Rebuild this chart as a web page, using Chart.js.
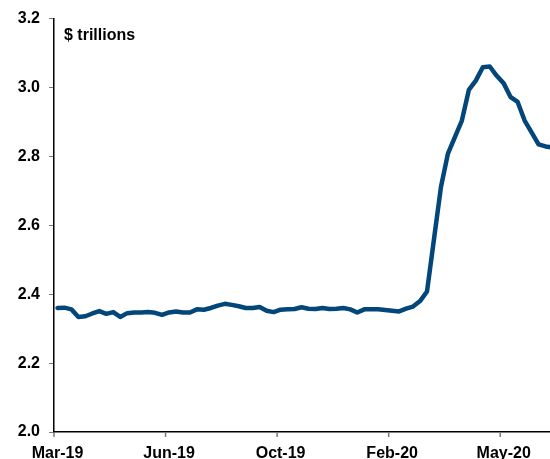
<!DOCTYPE html>
<html>
<head>
<meta charset="utf-8">
<script src="https://cdn.jsdelivr.net/npm/chart.js@4/dist/chart.umd.min.js"></script>
<style>
    html, body { margin: 0; padding: 0; background: #fff; overflow: hidden; }
    #wrap { width: 550px; height: 459px; overflow: hidden; }
</style>
</head>
<body>
<div id="wrap"><canvas id="myChart1" width="556" height="459"></canvas></div>
<script>
// weekly (Wednesday) observations
const weeks = [
    '2019-03-06', '2019-03-13', '2019-03-20', '2019-03-27', '2019-04-03', '2019-04-10', '2019-04-17', '2019-04-24',
    '2019-05-01', '2019-05-08', '2019-05-15', '2019-05-22', '2019-05-29', '2019-06-05', '2019-06-12', '2019-06-19',
    '2019-06-26', '2019-07-03', '2019-07-10', '2019-07-17', '2019-07-24', '2019-07-31', '2019-08-07', '2019-08-14',
    '2019-08-21', '2019-08-28', '2019-09-04', '2019-09-11', '2019-09-18', '2019-09-25', '2019-10-02', '2019-10-09',
    '2019-10-16', '2019-10-23', '2019-10-30', '2019-11-06', '2019-11-13', '2019-11-20', '2019-11-27', '2019-12-04',
    '2019-12-11', '2019-12-18', '2019-12-25', '2020-01-01', '2020-01-08', '2020-01-15', '2020-01-22', '2020-01-29',
    '2020-02-05', '2020-02-12', '2020-02-19', '2020-02-26', '2020-03-04', '2020-03-11', '2020-03-18', '2020-03-25',
    '2020-04-01', '2020-04-08', '2020-04-15', '2020-04-22', '2020-04-29', '2020-05-06', '2020-05-13', '2020-05-20',
    '2020-05-27', '2020-06-03', '2020-06-10', '2020-06-17', '2020-06-24', '2020-07-01', '2020-07-08', '2020-07-15'
];

// $ trillions
const values = [
    2.360, 2.361, 2.356, 2.334, 2.336, 2.344, 2.351, 2.343,
    2.348, 2.334, 2.345, 2.347, 2.347, 2.348, 2.346, 2.340,
    2.347, 2.350, 2.347, 2.347, 2.356, 2.355, 2.360, 2.367,
    2.372, 2.369, 2.365, 2.360, 2.360, 2.363, 2.352, 2.348,
    2.355, 2.356, 2.357, 2.362, 2.358, 2.357, 2.360, 2.357,
    2.358, 2.360, 2.356, 2.347, 2.356, 2.356, 2.356, 2.354,
    2.352, 2.350, 2.358, 2.364, 2.380, 2.408, 2.560, 2.711,
    2.808, 2.856, 2.904, 2.993, 3.020, 3.059, 3.061, 3.034,
    3.012, 2.972, 2.958, 2.904, 2.870, 2.835, 2.829, 2.826
];

const tickLabels = ['Mar-19', 'Jun-19', 'Oct-19', 'Feb-20', 'May-20'];
const tickEvery = 16;

const unitText = '$ trillions';
const lineColor = '#03467a';
const tickColor = '#7a7a7a';
const axisFont = { family: '"Liberation Sans", Arial, sans-serif', size: 16, weight: 'bold' };

// title inside the plot + x tick marks on the category boundaries (Excel style)
const extras = {
    id: 'extras',
    afterDraw(chart) {
        const c = chart.ctx;
        const xs = chart.scales.x;
        const half = (xs.getPixelForValue(1) - xs.getPixelForValue(0)) / 2;
        const y0 = chart.chartArea.bottom;
        c.save();
        c.strokeStyle = tickColor;
        c.lineWidth = 1.5;
        for (let i = 0; i < weeks.length; i += tickEvery) {
            const px = xs.getPixelForValue(i) - half;
            c.beginPath();
            c.moveTo(px, y0);
            c.lineTo(px, y0 + 5);
            c.stroke();
        }
        c.font = 'bold 16px "Liberation Sans", Arial, sans-serif';
        c.fillStyle = '#000';
        c.textBaseline = 'alphabetic';
        c.fillText(unitText, chart.chartArea.left + 10, 40);
        c.restore();
    }
};

const ctx = document.getElementById('myChart1').getContext('2d');
const chart1 = new Chart(ctx, {
    type: 'line',
    data: {
        labels: weeks,
        datasets: [{
            data: values,
            borderColor: lineColor,
            borderWidth: 4.5,
            pointRadius: 0,
            tension: 0,
            borderCapStyle: 'round',
            borderJoinStyle: 'round',
            fill: false
        }]
    },
    options: {
        responsive: false,
        animation: false,
        layout: { padding: { top: 18, left: 0, right: 0, bottom: 0 } },
        plugins: { legend: { display: false }, tooltip: { enabled: false } },
        scales: {
            x: {
                offset: true,
                grid: { display: true, drawOnChartArea: false, drawTicks: false },
                border: { color: '#000', width: 1.5 },
                ticks: {
                    autoSkip: false,
                    maxRotation: 0,
                    padding: 12,
                    color: '#000',
                    font: axisFont,
                    callback: function(val, index) {
                        return index % tickEvery === 0 ? tickLabels[index / tickEvery] : '';
                    }
                },
                afterFit: function(scale) {
                    scale.height = 27;
                    scale.paddingLeft = 0;
                    scale.paddingRight = 0;
                }
            },
            y: {
                min: 2.0,
                max: 3.2,
                grid: { drawOnChartArea: false, tickLength: 5, color: tickColor },
                border: { color: '#000', width: 1.5 },
                ticks: {
                    stepSize: 0.2,
                    padding: 9,
                    color: '#000',
                    font: axisFont,
                    callback: v => v.toFixed(1)
                },
                afterFit: function(scale) { scale.width = 54; }
            }
        }
    },
    plugins: [extras]
});
</script>
</body>
</html>
